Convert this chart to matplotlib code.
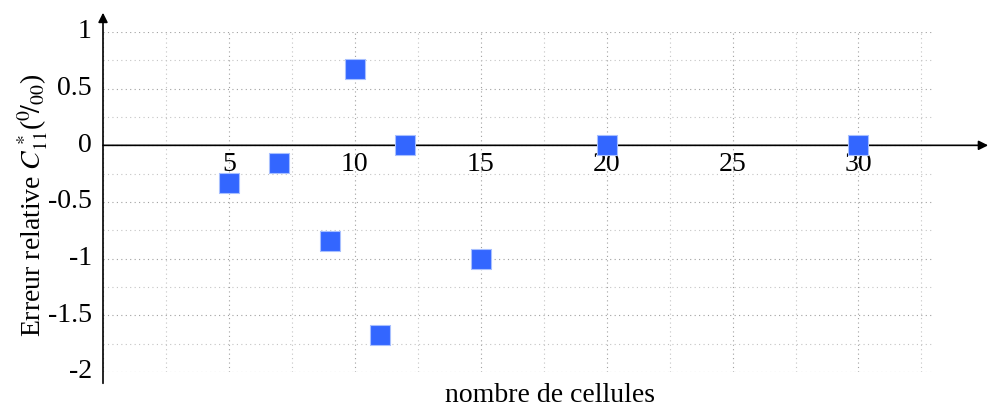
import numpy as np
import matplotlib.pyplot as plt
from matplotlib.ticker import MultipleLocator

plt.rcParams['font.family'] = ['Liberation Serif', 'DejaVu Serif']
plt.rcParams['mathtext.fontset'] = 'stix'
plt.rcParams['axes.unicode_minus'] = False

# data
cells = [5, 7, 9, 10, 11, 12, 15, 20, 30]
err = [-0.33, -0.16, -0.84, 0.67, -1.67, 0.0, -1.0, 0.0, 0.0]
xticks = [5, 10, 15, 20, 25, 30]
yticks = [1, 0.5, 0, -0.5, -1, -1.5, -2]
ylabels = ['1', '0.5', '0', '-0.5', '-1', '-1.5', '-2']

fig = plt.figure(figsize=(9.89, 4.09), dpi=100)
W, H = 989, 409
ax = fig.add_axes([103 / W, 1 - 372 / H, (934 - 103) / W, (372 - 32) / H])
ax.set_xlim(0, 33)
ax.set_ylim(-2, 1)

for s in ax.spines.values():
    s.set_visible(False)

# dotted grid, major + minor
ax.xaxis.set_major_locator(MultipleLocator(5))
ax.xaxis.set_minor_locator(MultipleLocator(2.5))
ax.yaxis.set_major_locator(MultipleLocator(0.5))
ax.yaxis.set_minor_locator(MultipleLocator(0.25))
ax.grid(which='major', ls=(0, (1, 3)), color='#a0a0a0', lw=0.8)
ax.grid(which='minor', ls=(0, (1, 3)), color='#c4c4c4', lw=0.8)
ax.set_axisbelow(True)
ax.tick_params(which='both', length=0, labelbottom=False, labelleft=False)

# axis lines with arrows
ax.annotate('', xy=(35.15, 0), xytext=(0, 0), annotation_clip=False,
            arrowprops=dict(arrowstyle='-|>', color='black', lw=1.2,
                            shrinkA=0, shrinkB=0, mutation_scale=14))
ax.annotate('', xy=(0, 1.17), xytext=(0, -2.1), annotation_clip=False,
            arrowprops=dict(arrowstyle='-|>', color='black', lw=1.2,
                            shrinkA=0, shrinkB=0, mutation_scale=14))

for x in xticks:
    ax.text(x, -0.06, str(x), ha='center', va='top', fontsize=20)
for y, lab in zip(yticks, ylabels):
    ax.text(-0.45, y, lab, ha='right', va='center', fontsize=20)

ax.scatter(cells, err, marker='s', s=190, color='#3366ff',
           edgecolor='#a8c0ff', linewidth=0.8, zorder=5, clip_on=False)

fig.text(550 / W, 1 - 395 / H, 'nombre de cellules', ha='center',
         va='center', fontsize=20)
fig.text(33 / W, 1 - 205 / H, r'Erreur relative $C^*_{11}$($^0\!/_{00}$)',
         ha='center', va='center', rotation=90, fontsize=20)

fig.savefig('out.png', dpi=100)
